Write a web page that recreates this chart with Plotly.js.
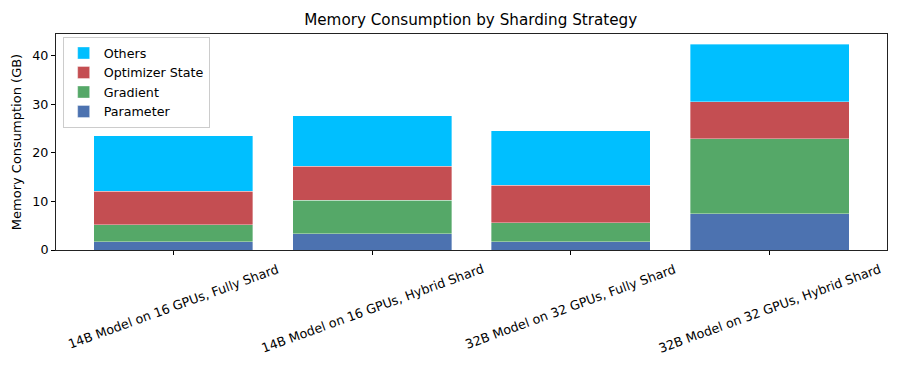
<!DOCTYPE html>
<html>
<head>
<meta charset="utf-8">
<script src="https://cdn.plot.ly/plotly-3.0.1.min.js"></script>
<style>
  html, body { margin: 0; padding: 0; background: #fff; }
  #plotArea { width: 914px; height: 366px; }
</style>
</head>
<body>
<div id="plotArea"></div>
<script>
// bar categories (x tick labels)
var categories = [
    "14B Model on 16 GPUs, Fully Shard",
    "14B Model on 16 GPUs, Hybrid Shard",
    "32B Model on 32 GPUs, Fully Shard",
    "32B Model on 32 GPUs, Hybrid Shard"
];
// memory per component, GB
var parameter = [1.7, 3.35, 1.7, 7.5];
var gradient = [3.45, 6.85, 3.9, 15.4];
var optimizerState = [6.9, 7.0, 7.7, 7.6];
var others = [11.5, 10.4, 11.2, 11.8];

var font = {family: "DejaVu Sans", size: 12.7, color: "#000"};

// stack from the bottom up
function bar(name, values, color) {
    return {
        x: categories,
        y: values,
        name: name,
        type: "bar",
        width: 0.8,
        marker: {color: color, line: {color: "rgba(255,255,255,0.6)", width: 0.6}},
        hoverinfo: "none"
    };
}
var traces = [
    bar("Parameter", parameter, "#4C72B0"),
    bar("Gradient", gradient, "#55A868"),
    bar("Optimizer State", optimizerState, "#C44E52"),
    bar("Others", others, "#00BFFF")
];

// rotated tick labels centred under each tick, like matplotlib rotation=20
var tickLabels = categories.map(function (c) {
    return {
        x: c, xref: "x",
        y: -0.04, yref: "paper",
        text: c, showarrow: false,
        textangle: -20,
        xanchor: "center", yanchor: "top",
        font: font
    };
});

var layout = {
    width: 914,
    height: 366,
    margin: {l: 56, r: 27, t: 34, b: 116},
    paper_bgcolor: "#fff",
    plot_bgcolor: "#fff",
    font: font,
    barmode: "stack",
    bargap: 0.2,
    title: {text: "Memory Consumption by Sharding Strategy", font: {family: "DejaVu Sans", size: 15.2, color: "#000"}, x: 0.515, xanchor: "center", y: 0.945, yanchor: "middle"},
    xaxis: {
        type: "category",
        range: [-0.59, 3.59],
        showticklabels: false,
        ticks: "outside", ticklen: 4, tickcolor: "#000",
        showline: true, linecolor: "#222", linewidth: 1, mirror: true,
        showgrid: false, zeroline: false
    },
    yaxis: {
        range: [0, 44.46],
        tickvals: [0, 10, 20, 30, 40],
        ticks: "outside", ticklen: 4, tickcolor: "#000",
        showline: true, linecolor: "#222", linewidth: 1, mirror: true,
        showgrid: false, zeroline: false,
        title: {text: "Memory Consumption (GB)", font: {family: "DejaVu Sans", size: 13, color: "#000"}, standoff: 7},
        tickfont: font
    },
    legend: {
        x: 0.008, y: 0.985, xanchor: "left", yanchor: "top",
        traceorder: "reversed",
        bgcolor: "rgba(255,255,255,0.8)",
        bordercolor: "#ccc", borderwidth: 1,
        tracegroupgap: 0,
        font: font
    },
    annotations: tickLabels,
    showlegend: true
};

Plotly.newPlot("plotArea", traces, layout, {displayModeBar: false, staticPlot: true});
</script>
</body>
</html>
